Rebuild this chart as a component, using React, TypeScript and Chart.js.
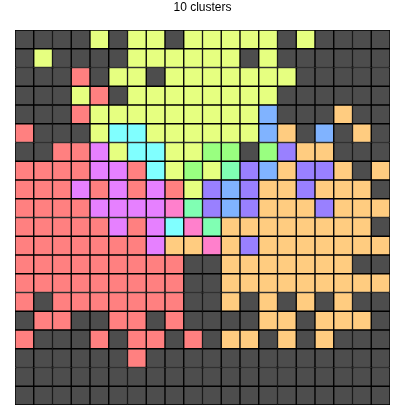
import React, { useEffect, useRef } from "react";
import { Chart, registerables } from "chart.js";

Chart.register(...registerables);

const chartTitle = "10 clusters";

// '.' = noise (no cluster), letters = cluster ids
const clusterColors: Record<string, string> = {
  ".": "#4d4d4d",
  A: "#ff8080",
  B: "#ffcc80",
  C: "#e6ff80",
  D: "#99ff80",
  E: "#80ffb3",
  F: "#80ffff",
  G: "#80b3ff",
  H: "#9980ff",
  I: "#e680ff",
  J: "#ff80cc",
};

// Grid of cluster labels, top row first, 20 columns each
const gridRows: string[] = [
  "....C.CC.CCCCC.C....",
  ".C....CCCCCC.C......",
  "...A.CC.CCCCCCC.....",
  "...CA.CCCCCCCC......",
  "...ACCCCCCCCCG...B..",
  "A...CFFCCCCCCGB.G.B.",
  "..AAICFFCCDD.DHBB...",
  "AAAAIIAFCDCEHGBHHB.B",
  "AAAIAIAIACHGHBBHBBB.",
  "AAAAIIIIJEHGHBBBHBBB",
  "AAAAAIAIFJEBBBBBBBB.",
  "AAAAAAAIBBJBHBBBBBBB",
  "AAAAAAAAA..BBBBBBB..",
  "AAAAAAAAA..BBBBBBBBB",
  "A.AAAAAAA..B.B.B.B..",
  ".AA..AA.A....BB.BBB.",
  "A...A.AA.A.BB.B.B...",
  "......A.............",
  "....................",
  "....................",
];

export default function App() {
  const canvasRef = useRef<HTMLCanvasElement>(null);

  useEffect(() => {
    const canvas = canvasRef.current;
    if (!canvas) return;
    const nRows = gridRows.length;
    const nCols = gridRows[0].length;
    const labels = Array.from({ length: nCols }, (_, i) => String(i));
    const datasets = gridRows
      .slice()
      .reverse()
      .map((row, k) => ({
        label: `row ${nRows - 1 - k}`,
        data: row.split("").map(() => 1),
        backgroundColor: row.split("").map((c) => clusterColors[c]),
        borderColor: "#000000",
        borderWidth: 1,
        borderSkipped: false as const,
        barPercentage: 1,
        categoryPercentage: 1,
      }));

    const chart = new Chart(canvas, {
      type: "bar",
      data: { labels, datasets },
      options: {
        responsive: false,
        animation: false,
        layout: { padding: { left: 15, right: 10, top: 0, bottom: 3 } },
        plugins: {
          legend: { display: false },
          tooltip: { enabled: false },
          title: {
            display: true,
            text: chartTitle,
            color: "#000000",
            font: { size: 12, weight: "normal", family: "Arial, 'Liberation Sans', sans-serif" },
            padding: { top: 0, bottom: 15.6 },
          },
        },
        scales: {
          x: { stacked: true, display: false },
          y: { stacked: true, display: false, min: 0, max: nRows },
        },
      },
    });
    return () => chart.destroy();
  }, []);

  return (
    <div style={{ position: "fixed", left: 0, top: 0, width: 400, height: 408, background: "#ffffff" }}>
      <canvas ref={canvasRef} width={400} height={408} />
    </div>
  );
}
